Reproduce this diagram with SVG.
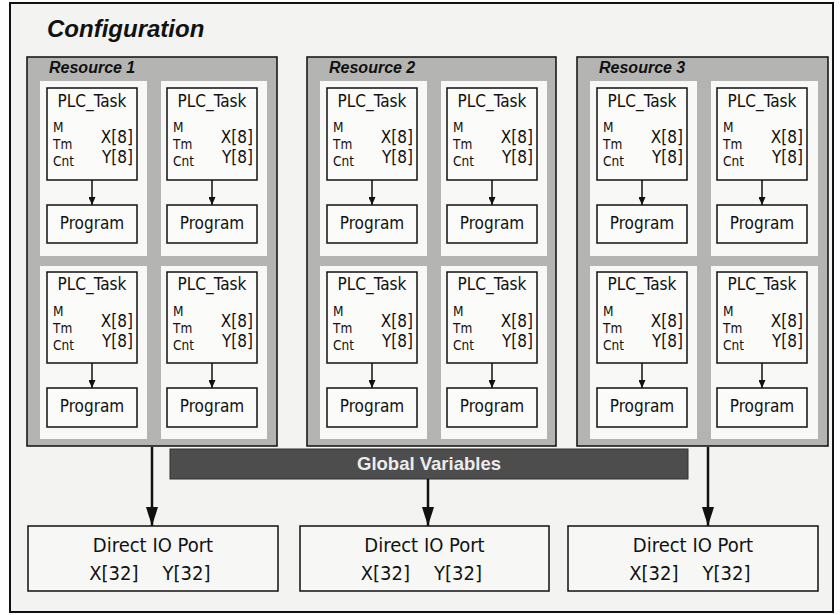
<svg xmlns="http://www.w3.org/2000/svg" width="840" height="615" viewBox="0 0 840 615">
<defs>
<style>
.frame{fill:#f3f3f1;stroke:#111;stroke-width:2}
.res{fill:#b4b4b2;stroke:#1a1a1a;stroke-width:1.6}
.cell{fill:#f8f8f6;stroke:none}
.box{fill:#fbfbfa;stroke:#111;stroke-width:1.5}
.io{fill:#f7f7f5;stroke:#111;stroke-width:1.5}
.t{font-family:"DejaVu Sans Condensed","DejaVu Sans",Verdana,sans-serif;font-size:17px;fill:#111}
.s{font-family:"DejaVu Sans Condensed","DejaVu Sans",Verdana,sans-serif;font-size:13.5px;fill:#111}
.io-t{font-family:"DejaVu Sans Condensed","DejaVu Sans",Verdana,sans-serif;font-size:20px;fill:#111}
.title{font-family:"Liberation Sans",Arial,sans-serif;font-size:24px;font-weight:bold;font-style:italic;fill:#111}
.rl{font-family:"Liberation Sans",Arial,sans-serif;font-size:16px;font-weight:bold;font-style:italic;fill:#111}
.gv{fill:#4d4d4d;stroke:#333;stroke-width:1}
.gvt{font-family:"Liberation Sans",Arial,sans-serif;font-size:18.5px;font-weight:bold;fill:#ececec}
.a{stroke:#111;stroke-width:1.5;fill:none}
.A{stroke:#111;stroke-width:2.5;fill:none}
</style>
<marker id="sm" viewBox="0 0 10 10" refX="10" refY="5" markerWidth="8" markerHeight="7" markerUnits="userSpaceOnUse" orient="auto" preserveAspectRatio="none"><path d="M0,0 L10,5 L0,10 z" fill="#111"/></marker>
<marker id="bg" viewBox="0 0 10 10" refX="10" refY="5" markerWidth="19" markerHeight="12" markerUnits="userSpaceOnUse" orient="auto" preserveAspectRatio="none"><path d="M0,0 L10,5 L0,10 z" fill="#111"/></marker>
</defs>

<g id="configuration">
<rect class="frame" x="10" y="3" width="823" height="609"/>
<text class="title" x="47" y="37">Configuration</text>
</g>

<g id="resource1">
<rect class="res" x="27" y="57" width="250" height="389"/>
<text class="rl" x="49" y="73">Resource 1</text>
<rect class="cell" x="40" y="81" width="107" height="175"/>
<rect class="cell" x="161" y="81" width="106" height="175"/>
<rect class="cell" x="40" y="266" width="107" height="173"/>
<rect class="cell" x="161" y="266" width="106" height="173"/>
</g>
<g id="resource2">
<rect class="res" x="307" y="57" width="249" height="389"/>
<text class="rl" x="329" y="73">Resource 2</text>
<rect class="cell" x="320" y="81" width="107" height="175"/>
<rect class="cell" x="441" y="81" width="106" height="175"/>
<rect class="cell" x="320" y="266" width="107" height="173"/>
<rect class="cell" x="441" y="266" width="106" height="173"/>
</g>
<g id="resource3">
<rect class="res" x="577" y="57" width="251" height="389"/>
<text class="rl" x="599" y="73">Resource 3</text>
<rect class="cell" x="590" y="81" width="107" height="175"/>
<rect class="cell" x="711" y="81" width="107" height="175"/>
<rect class="cell" x="590" y="266" width="107" height="173"/>
<rect class="cell" x="711" y="266" width="107" height="173"/>
</g>

<!-- Resource 1 tasks -->
<g id="r1-task1"><rect class="box" x="47" y="88" width="90" height="92"/>
<text class="t" x="92" y="107" text-anchor="middle">PLC_Task</text>
<text class="s" x="53" y="132">M</text><text class="s" x="53" y="149">Tm</text><text class="s" x="53" y="166">Cnt</text>
<text class="t" x="133" y="143" text-anchor="end">X[8]</text><text class="t" x="133" y="163" text-anchor="end">Y[8]</text></g>
<g id="r1-prog1"><rect class="box" x="47" y="205" width="90" height="38"/><text class="t" x="92" y="229" text-anchor="middle">Program</text></g>
<g id="r1-task2"><rect class="box" x="167" y="88" width="90" height="92"/>
<text class="t" x="212" y="107" text-anchor="middle">PLC_Task</text>
<text class="s" x="173" y="132">M</text><text class="s" x="173" y="149">Tm</text><text class="s" x="173" y="166">Cnt</text>
<text class="t" x="253" y="143" text-anchor="end">X[8]</text><text class="t" x="253" y="163" text-anchor="end">Y[8]</text></g>
<g id="r1-prog2"><rect class="box" x="167" y="205" width="90" height="38"/><text class="t" x="212" y="229" text-anchor="middle">Program</text></g>
<g id="r1-task3"><rect class="box" x="47" y="272" width="90" height="91"/>
<text class="t" x="92" y="290" text-anchor="middle">PLC_Task</text>
<text class="s" x="53" y="316">M</text><text class="s" x="53" y="333">Tm</text><text class="s" x="53" y="350">Cnt</text>
<text class="t" x="133" y="327" text-anchor="end">X[8]</text><text class="t" x="133" y="347" text-anchor="end">Y[8]</text></g>
<g id="r1-prog3"><rect class="box" x="47" y="388" width="90" height="39"/><text class="t" x="92" y="412" text-anchor="middle">Program</text></g>
<g id="r1-task4"><rect class="box" x="167" y="272" width="90" height="91"/>
<text class="t" x="212" y="290" text-anchor="middle">PLC_Task</text>
<text class="s" x="173" y="316">M</text><text class="s" x="173" y="333">Tm</text><text class="s" x="173" y="350">Cnt</text>
<text class="t" x="253" y="327" text-anchor="end">X[8]</text><text class="t" x="253" y="347" text-anchor="end">Y[8]</text></g>
<g id="r1-prog4"><rect class="box" x="167" y="388" width="90" height="39"/><text class="t" x="212" y="412" text-anchor="middle">Program</text></g>

<!-- Resource 2 tasks -->
<g id="r2-task1"><rect class="box" x="327" y="88" width="90" height="92"/>
<text class="t" x="372" y="107" text-anchor="middle">PLC_Task</text>
<text class="s" x="333" y="132">M</text><text class="s" x="333" y="149">Tm</text><text class="s" x="333" y="166">Cnt</text>
<text class="t" x="413" y="143" text-anchor="end">X[8]</text><text class="t" x="413" y="163" text-anchor="end">Y[8]</text></g>
<g id="r2-prog1"><rect class="box" x="327" y="205" width="90" height="38"/><text class="t" x="372" y="229" text-anchor="middle">Program</text></g>
<g id="r2-task2"><rect class="box" x="447" y="88" width="90" height="92"/>
<text class="t" x="492" y="107" text-anchor="middle">PLC_Task</text>
<text class="s" x="453" y="132">M</text><text class="s" x="453" y="149">Tm</text><text class="s" x="453" y="166">Cnt</text>
<text class="t" x="533" y="143" text-anchor="end">X[8]</text><text class="t" x="533" y="163" text-anchor="end">Y[8]</text></g>
<g id="r2-prog2"><rect class="box" x="447" y="205" width="90" height="38"/><text class="t" x="492" y="229" text-anchor="middle">Program</text></g>
<g id="r2-task3"><rect class="box" x="327" y="272" width="90" height="91"/>
<text class="t" x="372" y="290" text-anchor="middle">PLC_Task</text>
<text class="s" x="333" y="316">M</text><text class="s" x="333" y="333">Tm</text><text class="s" x="333" y="350">Cnt</text>
<text class="t" x="413" y="327" text-anchor="end">X[8]</text><text class="t" x="413" y="347" text-anchor="end">Y[8]</text></g>
<g id="r2-prog3"><rect class="box" x="327" y="388" width="90" height="39"/><text class="t" x="372" y="412" text-anchor="middle">Program</text></g>
<g id="r2-task4"><rect class="box" x="447" y="272" width="90" height="91"/>
<text class="t" x="492" y="290" text-anchor="middle">PLC_Task</text>
<text class="s" x="453" y="316">M</text><text class="s" x="453" y="333">Tm</text><text class="s" x="453" y="350">Cnt</text>
<text class="t" x="533" y="327" text-anchor="end">X[8]</text><text class="t" x="533" y="347" text-anchor="end">Y[8]</text></g>
<g id="r2-prog4"><rect class="box" x="447" y="388" width="90" height="39"/><text class="t" x="492" y="412" text-anchor="middle">Program</text></g>

<!-- Resource 3 tasks -->
<g id="r3-task1"><rect class="box" x="597" y="88" width="90" height="92"/>
<text class="t" x="642" y="107" text-anchor="middle">PLC_Task</text>
<text class="s" x="603" y="132">M</text><text class="s" x="603" y="149">Tm</text><text class="s" x="603" y="166">Cnt</text>
<text class="t" x="683" y="143" text-anchor="end">X[8]</text><text class="t" x="683" y="163" text-anchor="end">Y[8]</text></g>
<g id="r3-prog1"><rect class="box" x="597" y="205" width="90" height="38"/><text class="t" x="642" y="229" text-anchor="middle">Program</text></g>
<g id="r3-task2"><rect class="box" x="717" y="88" width="90" height="92"/>
<text class="t" x="762" y="107" text-anchor="middle">PLC_Task</text>
<text class="s" x="723" y="132">M</text><text class="s" x="723" y="149">Tm</text><text class="s" x="723" y="166">Cnt</text>
<text class="t" x="803" y="143" text-anchor="end">X[8]</text><text class="t" x="803" y="163" text-anchor="end">Y[8]</text></g>
<g id="r3-prog2"><rect class="box" x="717" y="205" width="90" height="38"/><text class="t" x="762" y="229" text-anchor="middle">Program</text></g>
<g id="r3-task3"><rect class="box" x="597" y="272" width="90" height="91"/>
<text class="t" x="642" y="290" text-anchor="middle">PLC_Task</text>
<text class="s" x="603" y="316">M</text><text class="s" x="603" y="333">Tm</text><text class="s" x="603" y="350">Cnt</text>
<text class="t" x="683" y="327" text-anchor="end">X[8]</text><text class="t" x="683" y="347" text-anchor="end">Y[8]</text></g>
<g id="r3-prog3"><rect class="box" x="597" y="388" width="90" height="39"/><text class="t" x="642" y="412" text-anchor="middle">Program</text></g>
<g id="r3-task4"><rect class="box" x="717" y="272" width="90" height="91"/>
<text class="t" x="762" y="290" text-anchor="middle">PLC_Task</text>
<text class="s" x="723" y="316">M</text><text class="s" x="723" y="333">Tm</text><text class="s" x="723" y="350">Cnt</text>
<text class="t" x="803" y="327" text-anchor="end">X[8]</text><text class="t" x="803" y="347" text-anchor="end">Y[8]</text></g>
<g id="r3-prog4"><rect class="box" x="717" y="388" width="90" height="39"/><text class="t" x="762" y="412" text-anchor="middle">Program</text></g>

<g id="global-variables">
<rect class="gv" x="170" y="449" width="518" height="30"/>
<text class="gvt" x="429" y="470" text-anchor="middle">Global Variables</text>
</g>

<g id="io1"><rect class="io" x="28" y="526" width="250" height="65"/>
<text class="io-t" x="153" y="552" text-anchor="middle">Direct IO Port</text>
<text class="io-t" x="138.5" y="580" text-anchor="end">X[32]</text><text class="io-t" x="162.5" y="580">Y[32]</text></g>
<g id="io2"><rect class="io" x="300" y="526" width="249" height="65"/>
<text class="io-t" x="424.5" y="552" text-anchor="middle">Direct IO Port</text>
<text class="io-t" x="410" y="580" text-anchor="end">X[32]</text><text class="io-t" x="434" y="580">Y[32]</text></g>
<g id="io3"><rect class="io" x="568" y="526" width="250" height="65"/>
<text class="io-t" x="693" y="552" text-anchor="middle">Direct IO Port</text>
<text class="io-t" x="678.5" y="580" text-anchor="end">X[32]</text><text class="io-t" x="702.5" y="580">Y[32]</text></g>

<g id="connectors">
<line class="a" x1="92" y1="180" x2="92" y2="205" marker-end="url(#sm)"/>
<line class="a" x1="212" y1="180" x2="212" y2="205" marker-end="url(#sm)"/>
<line class="a" x1="92" y1="363" x2="92" y2="388" marker-end="url(#sm)"/>
<line class="a" x1="212" y1="363" x2="212" y2="388" marker-end="url(#sm)"/>
<line class="a" x1="372" y1="180" x2="372" y2="205" marker-end="url(#sm)"/>
<line class="a" x1="492" y1="180" x2="492" y2="205" marker-end="url(#sm)"/>
<line class="a" x1="372" y1="363" x2="372" y2="388" marker-end="url(#sm)"/>
<line class="a" x1="492" y1="363" x2="492" y2="388" marker-end="url(#sm)"/>
<line class="a" x1="642" y1="180" x2="642" y2="205" marker-end="url(#sm)"/>
<line class="a" x1="762" y1="180" x2="762" y2="205" marker-end="url(#sm)"/>
<line class="a" x1="642" y1="363" x2="642" y2="388" marker-end="url(#sm)"/>
<line class="a" x1="762" y1="363" x2="762" y2="388" marker-end="url(#sm)"/>
<line class="A" x1="152" y1="447" x2="152" y2="526" marker-end="url(#bg)"/>
<line class="A" x1="428" y1="479" x2="428" y2="526" marker-end="url(#bg)"/>
<line class="A" x1="708" y1="447" x2="708" y2="526" marker-end="url(#bg)"/>
</g>
</svg>
